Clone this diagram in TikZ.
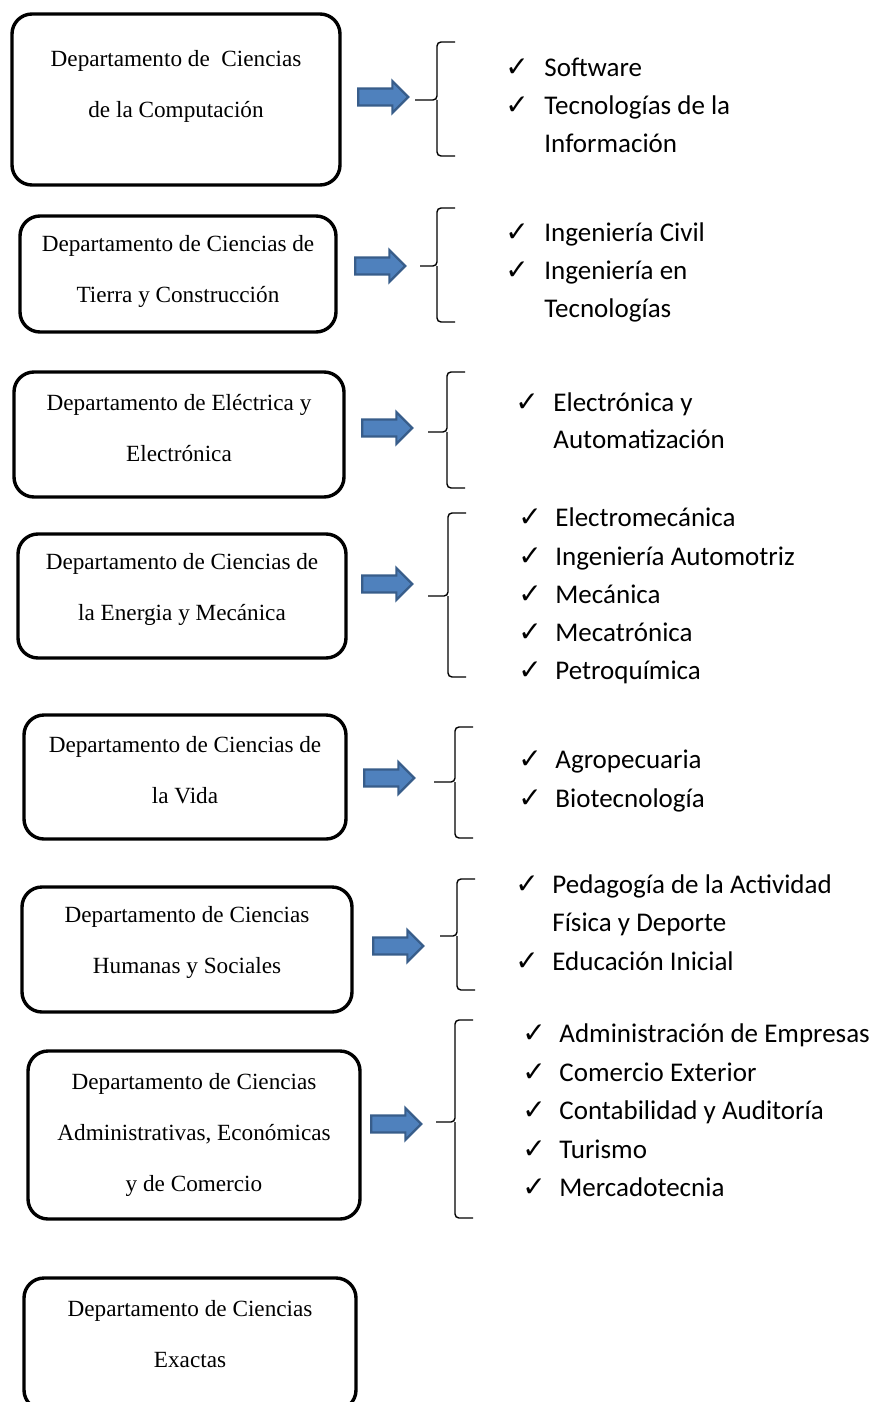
\documentclass[tikz,border=0pt]{standalone}
\usepackage{fontspec}
\setmainfont{Liberation Serif}
\newfontfamily\itemfont{Carlito}
\newfontfamily\checkfont{DejaVu Sans}
\usetikzlibrary{shapes.arrows}
\definecolor{arrowblue}{HTML}{4F81BD}
\definecolor{arrowedge}{HTML}{385D8A}
\tikzset{
  dept/.style={draw, line width=1.7pt, rounded corners=10pt},
  depttext/.style={align=center, font=\fontsize{11.6}{25.5}\selectfont},
  bigarrow/.style={single arrow, draw=arrowedge, fill=arrowblue, line width=1.1pt,
    minimum height=25pt, minimum width=15pt, inner sep=3.7pt, single arrow head extend=3.7pt},
  brace/.style={line width=0.7pt, rounded corners=2pt},
  chk/.style={anchor=base west, inner sep=0pt, font=\checkfont\fontsize{14}{14}\selectfont},
  item/.style={anchor=base west, inner sep=0pt, font=\itemfont\fontsize{13.5}{19}\selectfont}
}
\begin{document}
\begin{tikzpicture}[x=0.5pt, y=-0.5pt]
  \useasboundingbox (0,0) rectangle (876,1402);

  % department boxes
  \node[dept, minimum width=164pt, minimum height=85.5pt] (d1) at (176,99.5) {};
  \node[dept, minimum width=158pt, minimum height=58pt] (d2) at (178,274) {};
  \node[dept, minimum width=165pt, minimum height=62.5pt] (d3) at (179,434.5) {};
  \node[dept, minimum width=164pt, minimum height=62pt] (d4) at (182,596) {};
  \node[dept, minimum width=161pt, minimum height=62pt] (d5) at (185,777) {};
  \node[dept, minimum width=165pt, minimum height=62.5pt] (d6) at (187,949.5) {};
  \node[dept, minimum width=166pt, minimum height=84pt] (d7) at (194,1135) {};
  \node[dept, minimum width=166pt, minimum height=66pt] (d8) at (190,1344) {};

  % box texts
  \node[depttext] (t1) at (176,86.5) {Departamento de \ Ciencias\\de la Computación};
  \node[depttext] (t2) at (178,271.5) {Departamento de Ciencias de\\Tierra y Construcción};
  \node[depttext] (t3) at (179,428) {Departamento de Eléctrica y\\Electrónica};
  \node[depttext] (t4) at (182,589.5) {Departamento de Ciencias de\\la Energia y Mecánica};
  \node[depttext] (t5) at (185,770.5) {Departamento de Ciencias de\\la Vida};
  \node[depttext] (t6) at (187,942.5) {Departamento de Ciencias\\Humanas y Sociales};
  \node[depttext] (t7) at (194,1135) {Departamento de Ciencias\\Administrativas, Económicas\\y de Comercio};
  \node[depttext] (t8) at (190,1334.5) {Departamento de Ciencias\\Exactas};

  % block arrows
  \foreach \n/\x/\y in {1/379/97, 2/376/266, 3/383/428, 4/383/584, 5/385/778, 6/394/946, 7/392/1124} {
    \node[bigarrow] (a\n) at (\x,\y) {};
  }

  % braces: tip / vertical / top / middle / bottom
  \foreach \t/\v/\a/\m/\b in {415/437/42/100/156, 420/437/208/266/322, 428/447/372/432/488,
      428/448/513/596/677, 434/455/727/782/838, 440/457/879/936/990, 436/455/1020/1122/1218} {
    \draw[brace] (\v+18,\a) -- (\v,\a) -- (\v,\m) -- (\t,\m) (\v,\m) -- (\v,\b) -- (\v+18,\b);
  }

  % careers
  \foreach \cx/\tx/\y/\c/\txt in {
      505/544/68/1/Software, 505/544/106/1/Tecnologías de la, 505/544/144/0/Información,
      505/544/233/1/Ingeniería Civil, 505/544/271/1/Ingeniería en, 505/544/309/0/Tecnologías,
      515/553/403/1/Electrónica y, 515/553/440/0/Automatización,
      518/555/518/1/Electromecánica, 518/555/557/1/Ingeniería Automotriz, 518/555/595/1/Mecánica,
      518/555/633/1/Mecatrónica, 518/555/671/1/Petroquímica,
      518/555/760/1/Agropecuaria, 518/555/799/1/Biotecnología,
      515/552/885/1/Pedagogía de la Actividad, 515/552/923/0/Física y Deporte, 515/552/962/1/Educación Inicial,
      522/559/1034/1/Administración de Empresas, 522/559/1073/1/Comercio Exterior,
      522/559/1111/1/Contabilidad y Auditoría, 522/559/1150/1/Turismo, 522/559/1188/1/Mercadotecnia} {
    \ifnum\c=1 \node[chk] (c\y) at (\cx,\y+8) {✓}; \fi
    \node[item] (i\y) at (\tx,\y+8) {\txt};
  }

\end{tikzpicture}
\end{document}
